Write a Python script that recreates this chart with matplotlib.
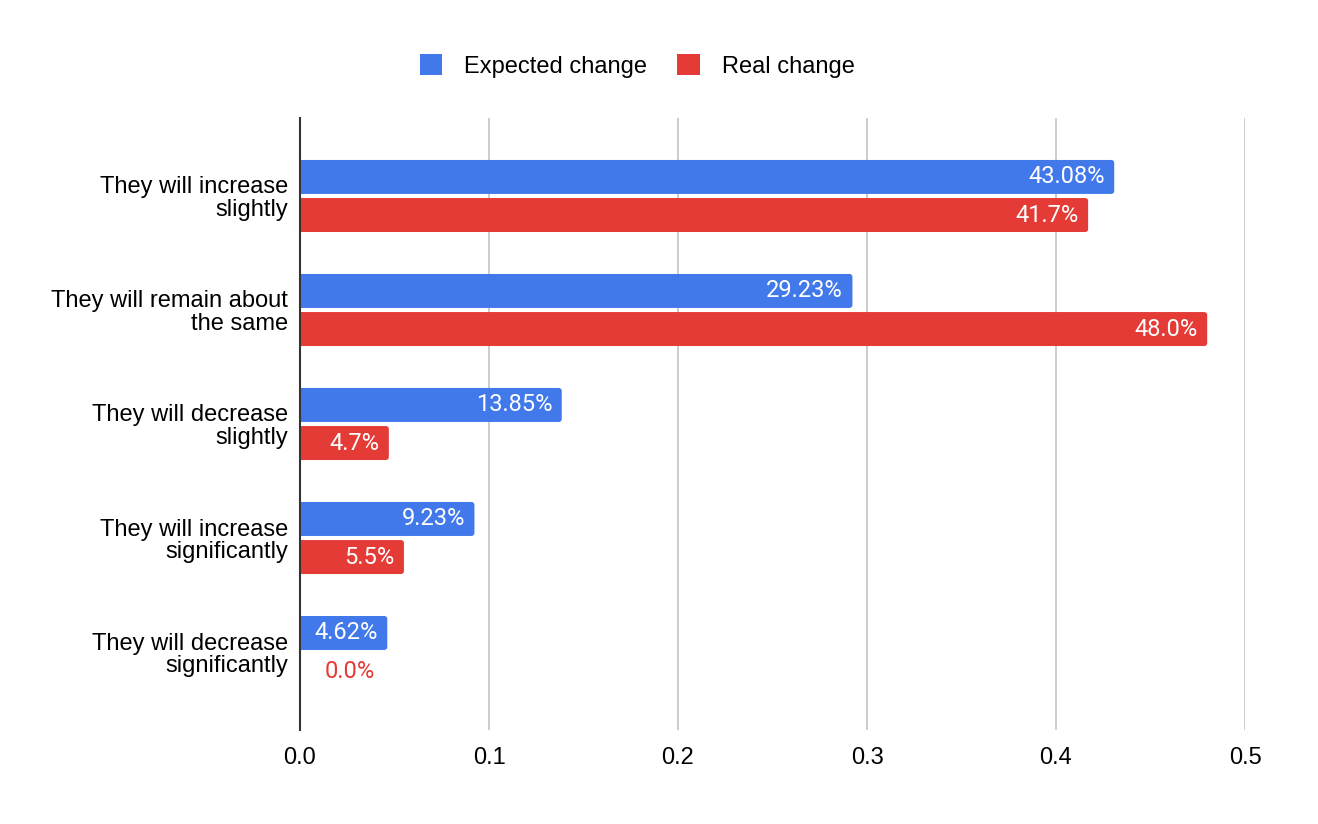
import matplotlib.pyplot as plt
from matplotlib.patches import FancyBboxPatch, Patch
import numpy as np

categories = ["They will increase\nslightly", "They will remain about\nthe same",
              "They will decrease\nslightly", "They will increase\nsignificantly",
              "They will decrease\nsignificantly"]
expected = [0.4308, 0.2923, 0.1385, 0.0923, 0.0462]
real = [0.417, 0.480, 0.047, 0.055, 0.0]
expected_labels = ["43.08%", "29.23%", "13.85%", "9.23%", "4.62%"]
real_labels = ["41.7%", "48.0%", "4.7%", "5.5%", "0.0%"]

blue = "#4179EA"
red = "#E43B36"

plt.rcParams['font.family'] = ['Liberation Sans', 'DejaVu Sans']

fig = plt.figure(figsize=(13.18, 8.24), dpi=100)
ax = fig.add_axes([300 / 1318, 1 - 730 / 824, 945 / 1318, 612 / 824])

y = np.arange(len(categories))
h = 0.298
off = 0.167
b1 = ax.barh(y - off, expected, height=h, color=blue, zorder=3)
b2 = ax.barh(y + off, real, height=h, color=red, zorder=3)

# round the bar ends a little (like the sheets chart)
r = 0.0016
for bars in (b1, b2):
    for p in bars:
        if p.get_width() <= 0:
            continue
        fb = FancyBboxPatch((p.get_x() - 2 * r, p.get_y()), p.get_width() + 2 * r, p.get_height(),
                            boxstyle="round,pad=0,rounding_size=%f" % r, mutation_aspect=16,
                            facecolor=p.get_facecolor(), edgecolor="none", zorder=3)
        ax.add_patch(fb)
        p.set_visible(False)

lab_font = ["Roboto", "DejaVu Sans"]
for i in range(len(categories)):
    ax.text(expected[i] - 0.005, y[i] - off, expected_labels[i], color="white",
            ha="right", va="center", fontsize=17, family=lab_font, zorder=4)
    if real[i] > 0.03:
        ax.text(real[i] - 0.005, y[i] + off, real_labels[i], color="white",
                ha="right", va="center", fontsize=17, family=lab_font, zorder=4)
    else:
        ax.text(real[i] + 0.013, y[i] + off, real_labels[i], color=red,
                ha="left", va="center", fontsize=17, family=lab_font, zorder=4)

ax.set_xlim(0, 0.5)
ax.set_ylim(4.684, -0.684)
ax.set_xticks([0.0, 0.1, 0.2, 0.3, 0.4, 0.5])
ax.set_xticklabels(["0.0", "0.1", "0.2", "0.3", "0.4", "0.5"], fontsize=17)
ax.set_yticks(y)
ax.set_yticklabels(categories, fontsize=17, linespacing=1.05)
ax.tick_params(axis='y', length=0, pad=8.5)
ax.tick_params(axis='x', length=0, pad=12)
ax.xaxis.grid(True, color="#C8C8C8", linewidth=1.3, zorder=0)
for s in ["top", "right", "bottom"]:
    ax.spines[s].set_visible(False)
ax.spines["left"].set_color("#333333")
ax.spines["left"].set_linewidth(1.5)
ax.spines["left"].set_zorder(5)

handles = [Patch(facecolor=blue, label="Expected change"),
           Patch(facecolor=red, label="Real change")]
fig.legend(handles=handles, loc="center", bbox_to_anchor=(0.4833, 1 - 66 / 824), ncol=2,
           frameon=False, fontsize=17, handlelength=0.95, handleheight=0.95,
           columnspacing=1.28, handletextpad=0.93)

plt.savefig("out.png", dpi=100)
